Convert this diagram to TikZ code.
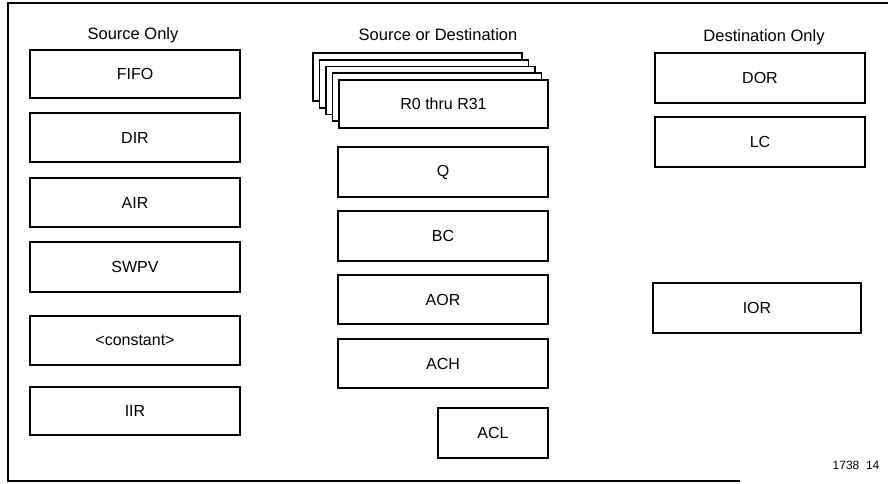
\documentclass[tikz,border=0pt]{standalone}
\usepackage{fontspec}
\setmainfont{Liberation Sans}
\begin{document}
\begin{tikzpicture}[x=1pt,y=-1pt,
  reg/.style={draw=black,line width=1.8pt,fill=white,inner sep=0pt},
  head/.style={font=\fontsize{16.5}{18}\selectfont,inner sep=0pt},
  lbl/.style={font=\fontsize{16}{18}\selectfont},
  frame/.style={line width=1.4pt}]
\useasboundingbox (0,0) rectangle (896,483);

% outer frame (open on the right)
\coordinate (ftr) at (888,3);
\coordinate (ftl) at (8,3);
\coordinate (fbl) at (8,481);
\coordinate (fbr) at (740,481);
\draw[frame] (ftr) -- (ftl) -- (fbl) -- (fbr);

% column headings
\node[head] (hsrc) at (133,35) {Source Only};
\node[head] (hsd)  at (438,35) {Source or Destination};
\node[head] (hdst) at (764,37) {Destination Only};

% a register box spanning corners (x1,y1) and (x2,y2)
\newcommand{\regbox}[6]{%
  \draw[reg] (#2,#3) rectangle (#4,#5);
  \node[lbl] (#1) at ({(#2+#4)/2},{(#3+#5)/2}) {#6};}

% source only
\regbox{fifo}{30}{50}{240}{98}{FIFO}
\regbox{dir}{30}{113}{240}{162}{DIR}
\regbox{air}{30}{178}{240}{227}{AIR}
\regbox{swpv}{30}{242}{240}{292}{SWPV}
\regbox{const}{30}{316}{240}{365}{<constant>}
\regbox{iir}{30}{387}{240}{435}{IIR}

% register file: stacked boxes
\foreach \k in {4,3,2,1} {
  \draw[reg] ({339-6.5*\k},{80-6.75*\k}) rectangle ({548-6.5*\k},{128-6.75*\k});
}
\regbox{rf}{339}{80}{548}{128}{R0 thru R31}

% source or destination
\regbox{q}{338}{147}{548}{197}{Q}
\regbox{bc}{338}{211}{548}{261}{BC}
\regbox{aor}{338}{275}{548}{324}{AOR}
\regbox{ach}{338}{339}{548}{388}{ACH}
\regbox{acl}{438}{408}{548}{458}{ACL}

% destination only
\regbox{dor}{655}{53}{865}{103}{DOR}
\regbox{lc}{655}{117}{865}{167}{LC}
\regbox{ior}{653}{283}{861}{333}{IOR}

% figure number
\node[font=\fontsize{12}{14}\selectfont,inner sep=0pt] (fig) at (856,465) {1738\ \ 14};
\end{tikzpicture}
\end{document}
